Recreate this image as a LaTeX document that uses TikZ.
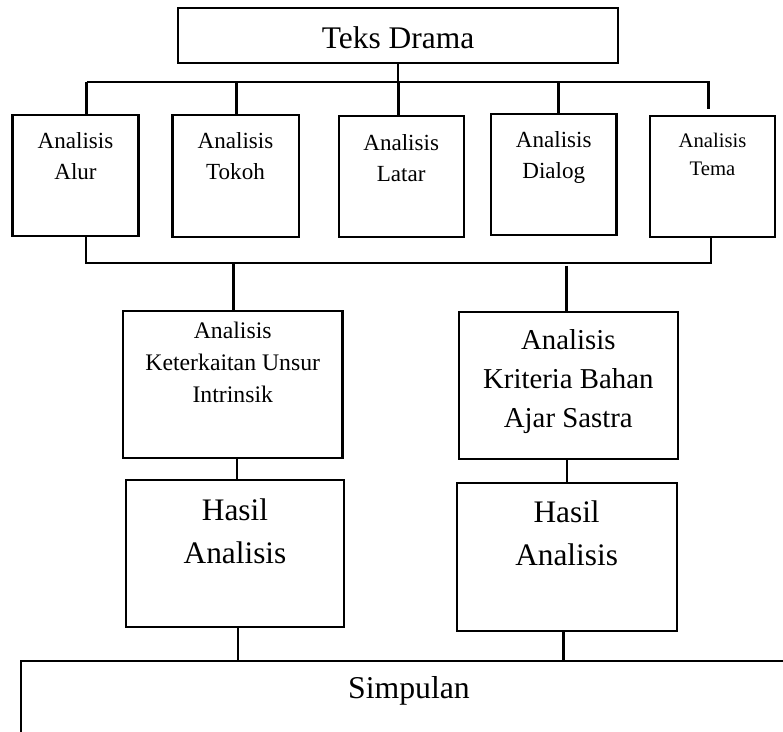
\documentclass[tikz,border=0pt]{standalone}
\usepackage{fontspec}
\setmainfont{Liberation Serif}
\usetikzlibrary{calc,fit}
\newcommand\mysize[2]{\fontsize{#1}{#2}\selectfont}
\tikzset{
  frame/.style={draw, line width=1.6pt, inner sep=0pt, rectangle},
  txt/.style={inner sep=0pt, align=center},
  conn/.style={line width=1.6pt},
}
\begin{document}
\begin{tikzpicture}[x=0.75pt,y=-0.75pt]
\useasboundingbox (0,0) rectangle (783,732);
% boxes
\node[frame, fit={(178,8) (618,63)}] (teks) {};
\node[frame, fit={(12.5,115) (138.5,235.7)}] (alur) {};
\node[frame, fit={(172.5,115) (299,236.7)}] (tokoh) {};
\node[frame, fit={(339,116) (464,236.7)}] (latar) {};
\node[frame, fit={(491,114) (616.5,235)}] (dialog) {};
\node[frame, fit={(650,116) (775,236.7)}] (tema) {};
\node[frame, fit={(123,310.7) (342.5,457.7)}] (ket) {};
\node[frame, fit={(458.6,312) (677.8,458.7)}] (kri) {};
\node[frame, fit={(125.7,480) (344.4,627)}] (has1) {};
\node[frame, fit={(456.7,482.7) (676.6,631)}] (has2) {};
\begin{scope}
\clip (0,0) rectangle (783,732);
\node[frame, fit={(21,661) (800,770)}] (simp) {};
\end{scope}
% texts
\node[txt, anchor=base, font=\mysize{23.6}{28}] (teksT) at (398,48) {Teks Drama};
\node[txt, anchor=north, font=\mysize{17.3}{23.25}] (alurT) at (75.5,132.3) {Analisis\\Alur};
\node[txt, anchor=north, font=\mysize{17.3}{23.25}] (tokohT) at (235.5,132.3) {Analisis\\Tokoh};
\node[txt, anchor=north, font=\mysize{17.3}{23.25}] (latarT) at (401.2,134.3) {Analisis\\Latar};
\node[txt, anchor=north, font=\mysize{17.3}{23.25}] (dialogT) at (553.75,131.3) {Analisis\\Dialog};
\node[txt, anchor=north, font=\mysize{15.5}{21}] (temaT) at (712.5,132.9) {Analisis\\Tema};
\node[txt, anchor=north, font=\mysize{17.8}{24}] (ketT) at (232.75,321.4) {Analisis\\Keterkaitan Unsur\\Intrinsik};
\node[txt, anchor=north, font=\mysize{21.6}{29}] (kriT) at (568.3,329.6) {Analisis\\Kriteria Bahan\\Ajar Sastra};
\node[txt, anchor=north, font=\mysize{23.5}{32.25}] (has1T) at (235,498.6) {Hasil\\Analisis};
\node[txt, anchor=north, font=\mysize{23.5}{32.25}] (has2T) at (566.6,500.6) {Hasil\\Analisis};
\node[txt, anchor=base, font=\mysize{23.8}{28}] (simpT) at (409,698) {Simpulan};
% bus coordinates
\coordinate (bus1) at (0,82);
\coordinate (bus2) at (0,262.7);
\coordinate (d1) at ($(alur.north)+(11,0)$);
\coordinate (d2) at ($(tokoh.north)+(0.75,0)$);
\coordinate (d3) at ($(latar.north)+(-3,0)$);
\coordinate (d4) at ($(dialog.north)+(4.75,0)$);
\coordinate (d5) at ($(tema.north)+(-4,0)$);
\coordinate (u1) at ($(alur.south)+(10.5,0)$);
\coordinate (u5) at ($(tema.south)+(-1.5,0)$);
\coordinate (k1) at ($(ket.north)+(0.75,0)$);
\coordinate (k2) at ($(kri.north)+(-1.7,0)$);
\coordinate (m1) at ($(ket.south)+(4.25,0)$);
\coordinate (m2) at ($(kri.south)+(-1.5,0)$);
\coordinate (s1) at ($(has1.south)+(3,0)$);
\coordinate (s2) at ($(has2.south)+(-3.1,0)$);
% connectors top
\draw[conn] (teks.south) -- (teks.south |- bus1);
\draw[conn] (d1 |- bus1) -- ($(d5 |- bus1)+(1.5,0)$);
\draw[conn] (d1 |- bus1) -- (d1);
\draw[conn] (d2 |- bus1) -- (d2);
\draw[conn] (d3 |- bus1) -- (d3);
\draw[conn] (d4 |- bus1) -- (d4);
\draw[conn] (d5 |- bus1) -- ($(d5)+(0,-6)$);
% connectors bottom
\draw[conn] (u1) -- (u1 |- bus2) -- (u5 |- bus2) -- (u5);
\draw[conn] (k1 |- bus2) -- (k1);
\draw[conn] ($(k2 |- bus2)+(0,3)$) -- (k2);
\draw[conn] (m1) -- (m1 |- has1.north);
\draw[conn] (m2) -- (m2 |- has2.north);
\draw[conn] (s1) -- (s1 |- simp.north);
\draw[conn] (s2) -- (s2 |- simp.north);
\end{tikzpicture}
\end{document}
